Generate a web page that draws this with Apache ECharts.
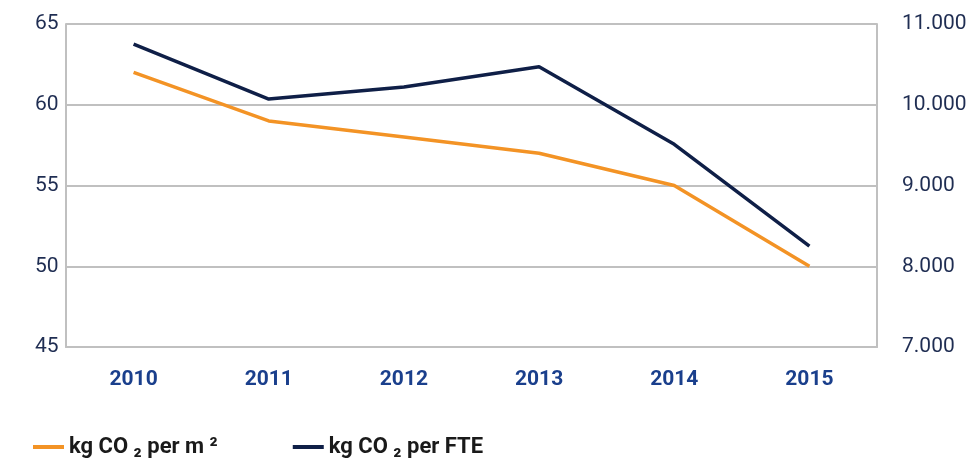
<!DOCTYPE html>
<html>
<head>
<meta charset="utf-8">
<script src="https://cdn.jsdelivr.net/npm/echarts@6/dist/echarts.min.js"></script>
<style>
  html, body { margin: 0; padding: 0; background: #fff; }
  #chart { width: 973px; height: 459px; }
</style>
</head>
<body>
<div id="chart"></div>
<script>
const years = ['2010', '2011', '2012', '2013', '2014', '2015'];
const perM2 = [62, 59, 58, 57, 55, 50];
const perFte = [10750, 10070, 10220, 10470, 9510, 8250];

const axisGrey = '#c0c0c0';
const navy = '#0f1f47';
const orange = '#f39325';

const chart = echarts.init(document.getElementById('chart'));
chart.setOption({
  animation: false,
  textStyle: { fontFamily: 'Roboto' },
  grid: { left: 66, right: 96, top: 24, bottom: 112 },
  legend: {
    left: 28,
    top: 431,
    itemWidth: 31,
    itemHeight: 4,
    itemGap: 75,
    icon: 'rect',
    textStyle: { fontSize: 22, fontWeight: 'bold', color: '#1a1a1a', padding: [0, 0, 0, 0] },
    data: ['kg CO \u2082 per m \u00b2', 'kg CO \u2082 per FTE']
  },
  xAxis: {
    type: 'category',
    data: years,
    boundaryGap: true,
    axisLine: { lineStyle: { color: axisGrey, width: 2 } },
    axisTick: { show: false },
    axisLabel: { fontSize: 21, fontWeight: 'bold', color: '#1a3f8c', margin: 22 }
  },
  yAxis: [
    {
      type: 'value', min: 45, max: 65, interval: 5,
      axisLine: { show: true, lineStyle: { color: axisGrey, width: 2 } },
      axisTick: { show: false },
      splitLine: { lineStyle: { color: axisGrey, width: 2 } },
      axisLabel: { fontSize: 21, color: '#1f2d52', margin: 31, align: 'left' }
    },
    {
      type: 'value', min: 7000, max: 11000, interval: 1000,
      axisLine: { show: true, lineStyle: { color: axisGrey, width: 2 } },
      axisTick: { show: false },
      splitLine: { show: false },
      axisLabel: {
        fontSize: 21, color: '#1f2d52', margin: 25,
        formatter: v => String(v).replace(/(\d)(\d{3})$/, '$1.$2')
      }
    }
  ],
  series: [
    {
      name: 'kg CO \u2082 per m \u00b2',
      type: 'line',
      yAxisIndex: 0,
      data: perM2,
      symbol: 'none',
      color: orange,
      lineStyle: { width: 3.5, color: orange }
    },
    {
      name: 'kg CO \u2082 per FTE',
      type: 'line',
      yAxisIndex: 1,
      data: perFte,
      symbol: 'none',
      color: navy,
      lineStyle: { width: 3.5, color: navy }
    }
  ]
});
</script>
</body>
</html>
